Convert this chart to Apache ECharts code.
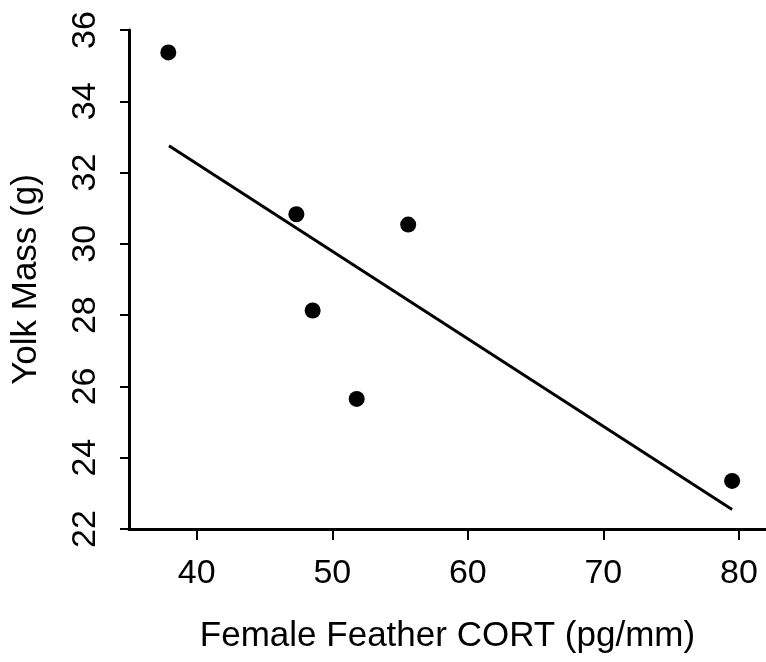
<!DOCTYPE html>
<html>
<head>
<meta charset="utf-8">
<script src="https://cdn.jsdelivr.net/npm/echarts@6/dist/echarts.min.js"></script>
<style>
  html, body { margin: 0; padding: 0; background: #fff; }
  #chart { width: 766px; height: 662px; }
</style>
</head>
<body>
<div id="chart"></div>
<script>
// feather CORT vs yolk mass
const cortValues = [37.9, 47.35, 48.55, 51.8, 55.6, 79.5];
const yolkValues = [35.37, 30.83, 28.13, 25.65, 30.54, 23.35];
const fitLine = [[37.95, 32.75], [79.5, 22.55]];
const xTicks = [40, 50, 60, 70, 80];

const points = cortValues.map((x, i) => [x, yolkValues[i]]);

const font = 'Liberation Sans, Arial, sans-serif';
const chart = echarts.init(document.getElementById('chart'));
const option = {
    backgroundColor: '#ffffff',
    animation: false,
    grid: { left: 129, right: 0, top: 30, bottom: 133 },
    xAxis: {
        type: 'value',
        min: 35,
        max: 82,
        name: 'Female Feather CORT (pg/mm)',
        nameLocation: 'middle',
        nameGap: 90,
        nameTextStyle: { color: '#000', fontFamily: font, fontSize: 35 },
        axisLine: { lineStyle: { color: '#000', width: 3 } },
        axisTick: { customValues: xTicks, length: 11, lineStyle: { color: '#000', width: 2 } },
        axisLabel: { customValues: xTicks, margin: 28, color: '#000', fontFamily: font, fontSize: 34 },
        splitLine: { show: false }
    },
    yAxis: {
        type: 'value',
        min: 22,
        max: 36,
        interval: 2,
        name: 'Yolk Mass (g)',
        nameLocation: 'middle',
        nameGap: 85,
        nameTextStyle: { color: '#000', fontFamily: font, fontSize: 35 },
        axisLine: { show: true, lineStyle: { color: '#000', width: 3 } },
        axisTick: { show: true, length: 9, lineStyle: { color: '#000', width: 2 } },
        axisLabel: { rotate: 90, margin: 26, color: '#000', fontFamily: font, fontSize: 34 },
        splitLine: { show: false }
    },
    series: [
        {
            type: 'line',
            data: fitLine,
            symbol: 'none',
            lineStyle: { color: '#000', width: 3 },
            z: 2
        },
        {
            type: 'scatter',
            data: points,
            symbol: 'circle',
            symbolSize: 16,
            itemStyle: { color: '#000', opacity: 1 },
            z: 3
        }
    ]
};
chart.setOption(option);
</script>
</body>
</html>
